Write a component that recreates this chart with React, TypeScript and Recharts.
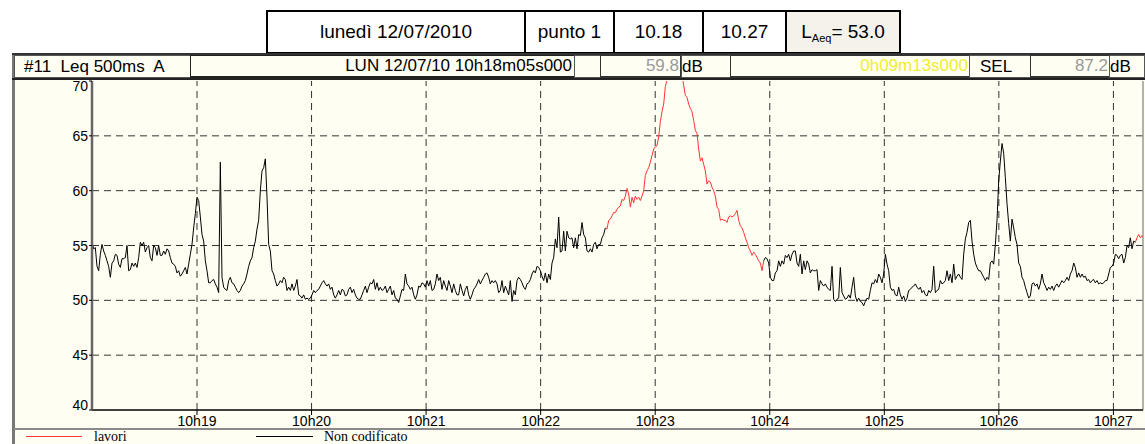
import React from 'react';
import { LineChart, Line, XAxis, YAxis, ReferenceLine } from 'recharts';

// Leq 500ms A trace at a regular step (seconds after 10h18m05s)
const SAMPLE_STEP_S = 0.873;

const seg1 = [
  55.3, 54.7, 54.8, 53.1, 52.7, 54.2, 55.1, 54.5, 54.1, 53.6,
  53.1, 52.1, 53.4, 53.6, 54.2, 54.1, 53.3, 53.0, 53.8, 53.8,
  53.9, 55.0, 52.7, 52.8, 53.4, 53.1, 53.4, 53.0, 53.9, 55.3,
  55.0, 55.3, 54.4, 54.8, 55.0, 53.9, 53.6, 55.0, 54.8, 54.1,
  55.0, 54.1, 54.1, 54.5, 54.2, 54.7, 54.5, 53.9, 53.4, 53.3,
  53.1, 52.5, 52.7, 52.2, 52.4, 52.7, 53.0, 52.4, 53.3, 54.2,
  55.1, 56.6, 57.9, 59.4, 59.1, 57.6, 56.0, 55.4, 53.6, 52.7,
  51.6, 51.6, 51.8, 51.9, 51.5, 51.2, 50.7, 62.6, 52.1, 51.2,
];
const seg2 = [
  51.0, 50.9, 51.8, 52.1, 51.6, 51.5, 51.2, 50.9, 50.7, 50.9,
  51.3, 51.5, 51.8, 52.4, 53.1, 53.6, 53.9, 54.8, 55.4, 56.5,
  57.3, 60.0, 61.8, 62.1, 62.9, 59.4, 55.1, 54.5, 52.7, 52.4,
  51.8, 51.3, 51.5, 51.8, 51.6, 52.1, 51.9, 50.9, 51.2, 50.9,
  51.5, 50.9, 51.3, 51.9, 50.5, 50.4, 50.2, 50.5, 50.1, 50.2,
  50.1, 50.2, 50.5, 50.9, 50.7, 50.9, 51.0, 51.3, 51.6, 51.8,
  51.5, 51.3, 51.5, 51.0, 51.2, 50.5, 50.2, 50.5, 50.9, 50.5,
  51.0, 50.9, 50.4, 50.5, 51.0, 51.2, 50.7, 51.0, 50.5, 50.2,
  50.1,
];
const seg3 = [
  50.1, 50.5, 50.9, 51.3, 50.7, 51.2, 51.6, 51.5, 51.9, 51.0,
  51.6, 50.9, 51.2, 50.9, 51.0, 51.3, 50.7, 51.0, 51.3, 50.5,
  50.9, 50.2, 50.1, 49.8, 50.4, 51.0, 50.9, 52.4, 51.5, 51.3,
  51.0, 51.2, 50.5, 50.1, 50.5, 51.3, 51.2, 51.6, 51.5, 51.2,
  51.8, 51.3, 51.8, 50.9, 51.0, 51.5, 52.4, 51.8, 52.1, 51.0,
  51.8, 51.3, 50.9, 51.8, 51.3, 50.7, 51.5, 50.9, 50.5, 50.5,
  51.5, 50.9, 50.4, 51.0, 51.3, 50.5, 50.1, 50.5, 51.0, 51.2,
  51.5, 51.9, 51.5, 51.8, 52.1, 52.4, 52.5, 52.1, 51.5, 51.8,
  51.6,
];
const seg4 = [
  51.8, 51.5, 50.7, 50.9, 51.8, 50.7, 51.3, 50.9, 50.5, 51.8,
  49.9, 50.9, 50.5, 51.8, 52.1, 51.9, 51.6, 51.2, 51.0, 51.5,
  51.6, 51.9, 52.4, 52.7, 52.5, 53.1, 53.0, 52.7, 52.2, 51.8,
  52.5, 51.6, 52.4, 51.9, 53.4, 53.9, 55.6, 54.8, 57.6, 54.4,
  54.5, 56.3, 54.5, 56.3, 55.7, 55.6, 55.7, 54.8, 55.7, 54.7,
  56.0, 55.9, 57.1, 56.0, 55.7, 54.5, 54.4, 54.7, 54.4, 55.1,
  55.3, 54.7, 55.1, 55.1, 55.7, 56.0, 56.6, 56.5, 57.3, 57.4,
  57.7, 58.0, 58.0, 58.3, 58.5, 58.6, 59.2, 59.1, 59.5, 60.2,
  59.7,
];
const seg5 = [
  58.5, 59.4, 58.9, 59.5, 59.2, 59.4, 59.1, 59.5, 60.0, 61.4,
  61.8, 62.1, 62.6, 63.2, 63.8, 64.0, 64.1, 64.9, 66.3, 67.2,
  67.9, 69.5, 70.1, 71.0, 71.9, 72.6, 73.0, 73.2, 72.9, 72.3,
  71.5, 70.6, 69.6, 68.7, 68.5, 67.9, 67.5, 67.2, 66.4, 65.5,
  65.2, 63.8, 62.7, 63.0, 62.4, 61.8, 60.6, 60.9, 60.8, 60.3,
  60.0, 59.5, 58.5, 58.3, 57.3, 57.4, 57.3, 57.3, 57.1, 57.6,
  57.7, 57.6, 57.7, 57.9, 58.2, 57.3, 56.8, 56.6, 56.2, 55.7,
  55.3, 54.8, 54.5, 54.1, 54.4, 54.2, 53.9, 53.6, 53.4, 52.7,
  53.6,
];
const seg6 = [
  53.9, 53.8, 53.4, 52.1, 51.8, 51.8, 52.5, 52.7, 53.6, 53.1,
  53.6, 53.3, 54.1, 53.9, 54.2, 53.6, 54.2, 54.5, 54.5, 53.4,
  53.1, 54.2, 52.4, 53.6, 52.8, 53.6, 53.3, 52.5, 52.8, 52.7,
  52.7, 52.8, 50.9, 51.8, 51.5, 51.3, 51.5, 51.2, 51.0, 50.9,
  53.1, 50.1, 49.9, 50.1, 50.2, 53.0, 50.7, 50.4, 50.1, 50.2,
  50.5, 50.2, 51.2, 52.1, 50.4, 49.9, 50.2, 49.9, 49.8, 49.5,
  49.9, 50.2, 50.1, 50.9, 51.6, 51.5, 51.9, 51.6, 52.4, 52.1,
  51.6, 52.4, 54.2, 53.3, 52.7, 51.2, 50.9, 51.0, 50.5, 50.4,
  51.2,
];
const seg7 = [
  50.5, 50.1, 50.4, 49.9, 50.2, 50.9, 51.0, 51.2, 51.3, 51.5,
  51.2, 51.0, 51.2, 50.7, 50.9, 50.5, 50.4, 50.9, 50.7, 51.0,
  53.1, 50.7, 50.9, 51.0, 51.8, 51.5, 51.6, 51.8, 52.7, 51.8,
  52.4, 51.6, 53.3, 51.9, 52.2, 52.4, 52.1, 51.9, 54.2, 55.6,
  56.2, 57.1, 57.3, 55.4, 54.2, 53.4, 53.0, 52.7, 52.7, 52.4,
  52.1, 51.8, 52.1, 51.9, 53.4, 53.6, 53.3, 55.1, 57.3, 60.9,
  62.7, 64.3, 63.4, 61.2, 58.8, 57.0, 55.4, 57.4, 56.6, 55.7,
  55.1, 53.4, 53.1, 52.1, 51.8, 51.2, 50.7, 50.2, 50.4, 51.5,
  51.6,
];
const seg8 = [
  51.3, 51.5, 51.0, 51.5, 52.4, 51.6, 51.3, 50.9, 51.2, 51.0,
  51.3, 50.9, 51.3, 51.5, 51.2, 51.5, 51.8, 51.6, 51.8, 52.1,
  51.8, 52.4, 52.7, 53.4, 53.0, 52.1, 52.5, 52.1, 52.4, 52.1,
  52.2, 51.8, 51.9, 51.6, 51.8, 51.9, 51.6, 51.8, 51.5, 51.6,
  51.5, 51.6, 51.8, 51.8, 52.4, 53.0, 53.1, 53.4, 54.2, 54.1,
  53.8, 54.1, 54.2, 53.4, 53.9, 55.0, 54.8, 55.7, 54.7, 55.4,
  55.3, 55.7, 56.0, 55.7, 55.9, 55.7, 55.7,
];

// time ranges (s after 10h18m05s) coded as "lavori"
const lavoriIntervals: [number, number][] = [
  [268.8, 351.9],
  [546.4, 560],
];

const xTicks = [55, 115, 175, 235, 295, 355, 415, 475, 535];
const xTickLabels = ['10h19', '10h20', '10h21', '10h22', '10h23', '10h24', '10h25', '10h26', '10h27'];
const yTicks = [40, 45, 50, 55, 60, 65, 70];
const yGrid = [45, 50, 55, 60, 65];

const levels = [...seg1, ...seg2, ...seg3, ...seg4, ...seg5, ...seg6, ...seg7, ...seg8];
const isLavori = (t: number) => lavoriIntervals.some(([a, b]) => t >= a && t <= b);
const timeOf = (i: number) => Math.round(i * SAMPLE_STEP_S * 1000) / 1000;

const data = levels.map((v, i) => {
  const t = timeOf(i);
  const red = isLavori(t);
  const prevRed = i === 0 ? false : isLavori(timeOf(i - 1));
  const nextRed = i === levels.length - 1 ? true : isLavori(timeOf(i + 1));
  const black = !red || !prevRed || !nextRed;
  return { t, lavori: red ? v : null, nonCod: black ? v : null };
});

const SANS = 'Arial, "Liberation Sans", sans-serif';
const SERIF = '"Times New Roman", "Liberation Serif", serif';
const CREAM = '#fffef3';

const YTick = (props: any) => {
  const { x, y, payload } = props;
  let dy = 5;
  if (payload.value === 70) dy = 10;
  if (payload.value === 40) dy = 0;
  return (
    <text x={x} y={y} dy={dy} textAnchor="end" fontSize={14} fontFamily={SANS} fill="#000">
      {payload.value}
    </text>
  );
};

const box = (left: number, top: number, width: number, height: number, extra: React.CSSProperties = {}): React.CSSProperties => ({
  position: 'absolute',
  left,
  top,
  width,
  height,
  boxSizing: 'border-box',
  display: 'flex',
  alignItems: 'center',
  fontFamily: SANS,
  ...extra,
});

export default function App() {
  return (
    <div style={{ position: 'fixed', left: 0, top: 0, width: 1145, height: 444, background: '#fff', overflow: 'hidden' }}>
      {/* frame background */}
      <div style={{ position: 'absolute', left: 12, top: 53, width: 1133, height: 391, background: CREAM, borderLeft: '3px solid #777', boxSizing: 'border-box' }} />
      {/* legend separator */}
      <div style={{ position: 'absolute', left: 14, top: 428, width: 1131, height: 2, background: '#8a8a8a' }} />

      <LineChart
        width={1145}
        height={444}
        data={data}
        margin={{ top: 81, right: 2, bottom: 4, left: 52 }}
        style={{ position: 'absolute', left: 0, top: 0 }}
      >
        <XAxis
          dataKey="t"
          type="number"
          domain={[0, 550.5]}
          allowDataOverflow
          ticks={xTicks}
          interval={0}
          tickFormatter={(v: number) => xTickLabels[xTicks.indexOf(v)] ?? ''}
          height={30}
          tickSize={5}
          tickMargin={1}
          axisLine={{ stroke: '#000', strokeWidth: 1.5 }}
          tickLine={{ stroke: '#000' }}
          tick={{ fontSize: 14, fill: '#000', fontFamily: SANS }}
        />
        <YAxis
          type="number"
          domain={[40, 70]}
          allowDataOverflow
          ticks={yTicks}
          interval={0}
          width={40}
          tickSize={3}
          tickMargin={1}
          axisLine={{ stroke: '#666', strokeWidth: 2.5 }}
          tickLine={{ stroke: '#000' }}
          tick={<YTick />}
        />
        {yGrid.map((v) => (
          <ReferenceLine key={'y' + v} y={v} stroke="#333" strokeDasharray="7 5" strokeWidth={1} />
        ))}
        {xTicks.map((v) => (
          <ReferenceLine key={'x' + v} x={v} stroke="#333" strokeDasharray="7 5" strokeWidth={1} />
        ))}
        <ReferenceLine x={550.5} stroke="#999" strokeWidth={1.5} />
        <Line
          dataKey="nonCod"
          stroke="#000"
          strokeWidth={1}
          dot={false}
          isAnimationActive={false}
          connectNulls={false}
          type="linear"
        />
        <Line
          dataKey="lavori"
          stroke="#ff3333"
          strokeWidth={1}
          dot={false}
          isAnimationActive={false}
          connectNulls={false}
          type="linear"
        />
      </LineChart>

      {/* top border of plot / bottom of row 2 */}
      <div style={{ position: 'absolute', left: 12, top: 78, width: 1133, height: 2, background: '#222' }} />

      {/* row 1 header boxes */}
      <div style={box(266, 10, 260, 44, { border: '2px solid #000', background: '#fff', justifyContent: 'center', fontSize: 19 })}>lunedì 12/07/2010</div>
      <div style={box(524, 10, 91, 44, { border: '2px solid #000', background: '#fff', justifyContent: 'center', fontSize: 19 })}>punto 1</div>
      <div style={box(613, 10, 91, 44, { border: '2px solid #000', background: '#fff', justifyContent: 'center', fontSize: 19 })}>10.18</div>
      <div style={box(702, 10, 85, 44, { border: '2px solid #000', background: '#fff', justifyContent: 'center', fontSize: 19 })}>10.27</div>
      <div style={box(785, 10, 116, 44, { border: '2px solid #000', background: '#f4f2eb', justifyContent: 'center', fontSize: 19 })}>
        <span>
          L<sub style={{ fontSize: 11, verticalAlign: -4 }}>Aeq</sub>= 53.0
        </span>
      </div>

      {/* row 2 */}
      <div style={{ position: 'absolute', left: 12, top: 53, width: 1133, height: 2, background: '#333' }} />
      <div style={box(14, 55, 177, 23, { border: '1px solid #555', background: CREAM, fontSize: 17, paddingLeft: 9, whiteSpace: 'pre' })}>#11  Leq 500ms  A</div>
      <div style={box(190, 55, 385, 23, { border: '1px solid #222', borderBottomWidth: 2, background: CREAM, fontSize: 17, justifyContent: 'flex-end', paddingRight: 2 })}>
        LUN 12/07/10 10h18m05s000
      </div>
      <div style={box(574, 55, 27, 23, { border: '1px solid #555', background: CREAM })} />
      <div style={box(600, 55, 81, 23, { border: '1px solid #333', borderBottomWidth: 2, background: CREAM, fontSize: 17, justifyContent: 'flex-end', color: '#999', paddingRight: 1 })}>59.8</div>
      <div style={box(681, 55, 50, 23, { border: '1px solid #555', background: CREAM, fontSize: 17, paddingLeft: 0 })}>dB</div>
      <div style={box(730, 55, 240, 23, { border: '1px solid #333', borderBottomWidth: 2, background: CREAM, fontSize: 17, justifyContent: 'flex-end', color: '#eeee30', paddingRight: 1 })}>0h09m13s000</div>
      <div style={box(969, 55, 62, 23, { border: '1px solid #555', background: CREAM, fontSize: 17, paddingLeft: 10 })}>SEL</div>
      <div style={box(1030, 55, 80, 23, { border: '1px solid #333', borderBottomWidth: 2, background: CREAM, fontSize: 17, justifyContent: 'flex-end', color: '#999', paddingRight: 1 })}>87.2</div>
      <div style={box(1109, 55, 36, 23, { border: '1px solid #555', background: CREAM, fontSize: 17 })}>dB</div>

      {/* legend */}
      <div style={{ position: 'absolute', left: 26, top: 436, width: 56, height: 1, background: '#ff3333' }} />
      <div style={{ position: 'absolute', left: 94, top: 429, fontFamily: SERIF, fontSize: 14, lineHeight: '15px', color: '#000' }}>lavori</div>
      <div style={{ position: 'absolute', left: 256, top: 436, width: 57, height: 1, background: '#000' }} />
      <div style={{ position: 'absolute', left: 324, top: 429, fontFamily: SERIF, fontSize: 14, lineHeight: '15px', color: '#000' }}>Non codificato</div>
    </div>
  );
}
